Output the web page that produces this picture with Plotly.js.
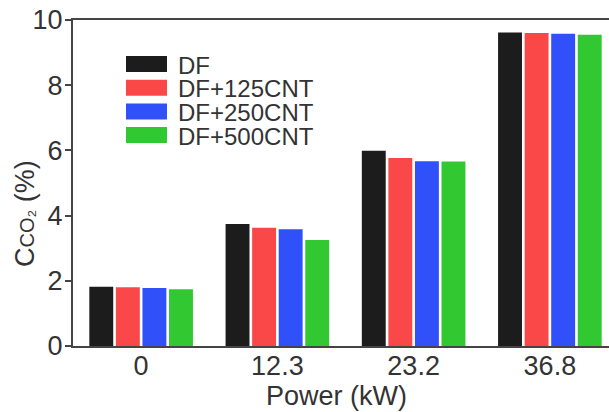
<!DOCTYPE html>
<html>
<head>
<meta charset="utf-8">
<script src="https://cdn.plot.ly/plotly-3.0.1.min.js"></script>
<style>
html,body{margin:0;padding:0;overflow:hidden;background:#fff;}
#chart{width:640px;height:412px;}
</style>
</head>
<body>
<div id="chart"></div>
<script>
const categories = ['0', '12.3', '23.2', '36.8'];
const seriesNames = ['DF', 'DF+125CNT', 'DF+250CNT', 'DF+500CNT'];
const seriesColors = ['#1c1c1c', '#fa4848', '#3050fa', '#32c832'];
const valsDF = [1.82, 3.74, 5.99, 9.62];
const vals125 = [1.80, 3.63, 5.77, 9.60];
const vals250 = [1.78, 3.58, 5.67, 9.58];
const vals500 = [1.74, 3.25, 5.66, 9.55];
const seriesValues = [valsDF, vals125, vals250, vals500];
const xTitle = 'Power (kW)';
const yTitle = 'C<span style="font-size:20px">CO₂</span> (%)';

const FONT = 'Liberation Sans, Arial, Helvetica, sans-serif';
const TXT = '#333333';

const traces = seriesNames.map((n, i) => ({
  type: 'bar',
  name: n,
  x: categories,
  y: seriesValues[i],
  marker: {color: seriesColors[i], line: {width: 0}},
  showlegend: false,
  hoverinfo: 'x+y+name'
}));

// custom legend geometry (px within plot area)
const plotL = 73, plotT = 20, plotB = 346, plotW = 545;
const plotH = plotB - plotT;
const px2x = p => (p - plotL) / plotW;
const px2y = p => (plotB - p) / plotH;
const shapes = [];
const annotations = [];
seriesNames.forEach((n, i) => {
  const cy = 64 + i * 23.7;
  shapes.push({
    type: 'rect', xref: 'paper', yref: 'paper',
    x0: px2x(126), x1: px2x(167), y0: px2y(cy + 8), y1: px2y(cy - 8),
    fillcolor: seriesColors[i], line: {width: 0}
  });
  annotations.push({
    xref: 'paper', yref: 'paper', x: px2x(177), y: px2y(cy + 1),
    xanchor: 'left', yanchor: 'middle', showarrow: false, borderpad: 0,
    text: n, font: {family: FONT, size: 24, color: TXT}
  });
});
// axis titles
annotations.push({
  xref: 'paper', yref: 'paper', x: px2x(25), y: px2y(214),
  xanchor: 'center', yanchor: 'middle', showarrow: false, textangle: -90,
  text: yTitle, font: {family: FONT, size: 27, color: TXT}
});
annotations.push({
  xref: 'paper', yref: 'paper', x: px2x(336), y: px2y(396),
  xanchor: 'center', yanchor: 'middle', showarrow: false, borderpad: 0,
  text: xTitle, font: {family: FONT, size: 27, color: TXT}
});

const layout = {
  width: 640, height: 412,
  margin: {l: plotL, r: 640 - plotL - plotW, t: plotT, b: 412 - plotB},
  paper_bgcolor: '#fff', plot_bgcolor: '#fff',
  font: {family: FONT, color: TXT},
  barmode: 'group',
  bargap: 0.22,
  bargroupgap: 0.1,
  showlegend: false,
  xaxis: {
    type: 'category',
    range: [-0.5, 3.5],
    showline: true, linecolor: '#444', linewidth: 2, mirror: true,
    ticks: '', showgrid: false, zeroline: false,
    tickfont: {family: FONT, size: 27, color: TXT},
    ticklabelstandoff: -5,
    automargin: false
  },
  yaxis: {
    range: [0, 10],
    tickvals: [0, 2, 4, 6, 8, 10],
    showline: true, linecolor: '#444', linewidth: 2, mirror: true,
    ticks: 'outside', ticklen: 6, tickwidth: 2, tickcolor: '#444',
    showgrid: false, zeroline: false,
    tickfont: {family: FONT, size: 27, color: TXT},
    ticklabelstandoff: -3,
    automargin: false
  },
  shapes: shapes,
  annotations: annotations
};

Plotly.newPlot('chart', traces, layout, {displayModeBar: false, staticPlot: true});
</script>
</body>
</html>
